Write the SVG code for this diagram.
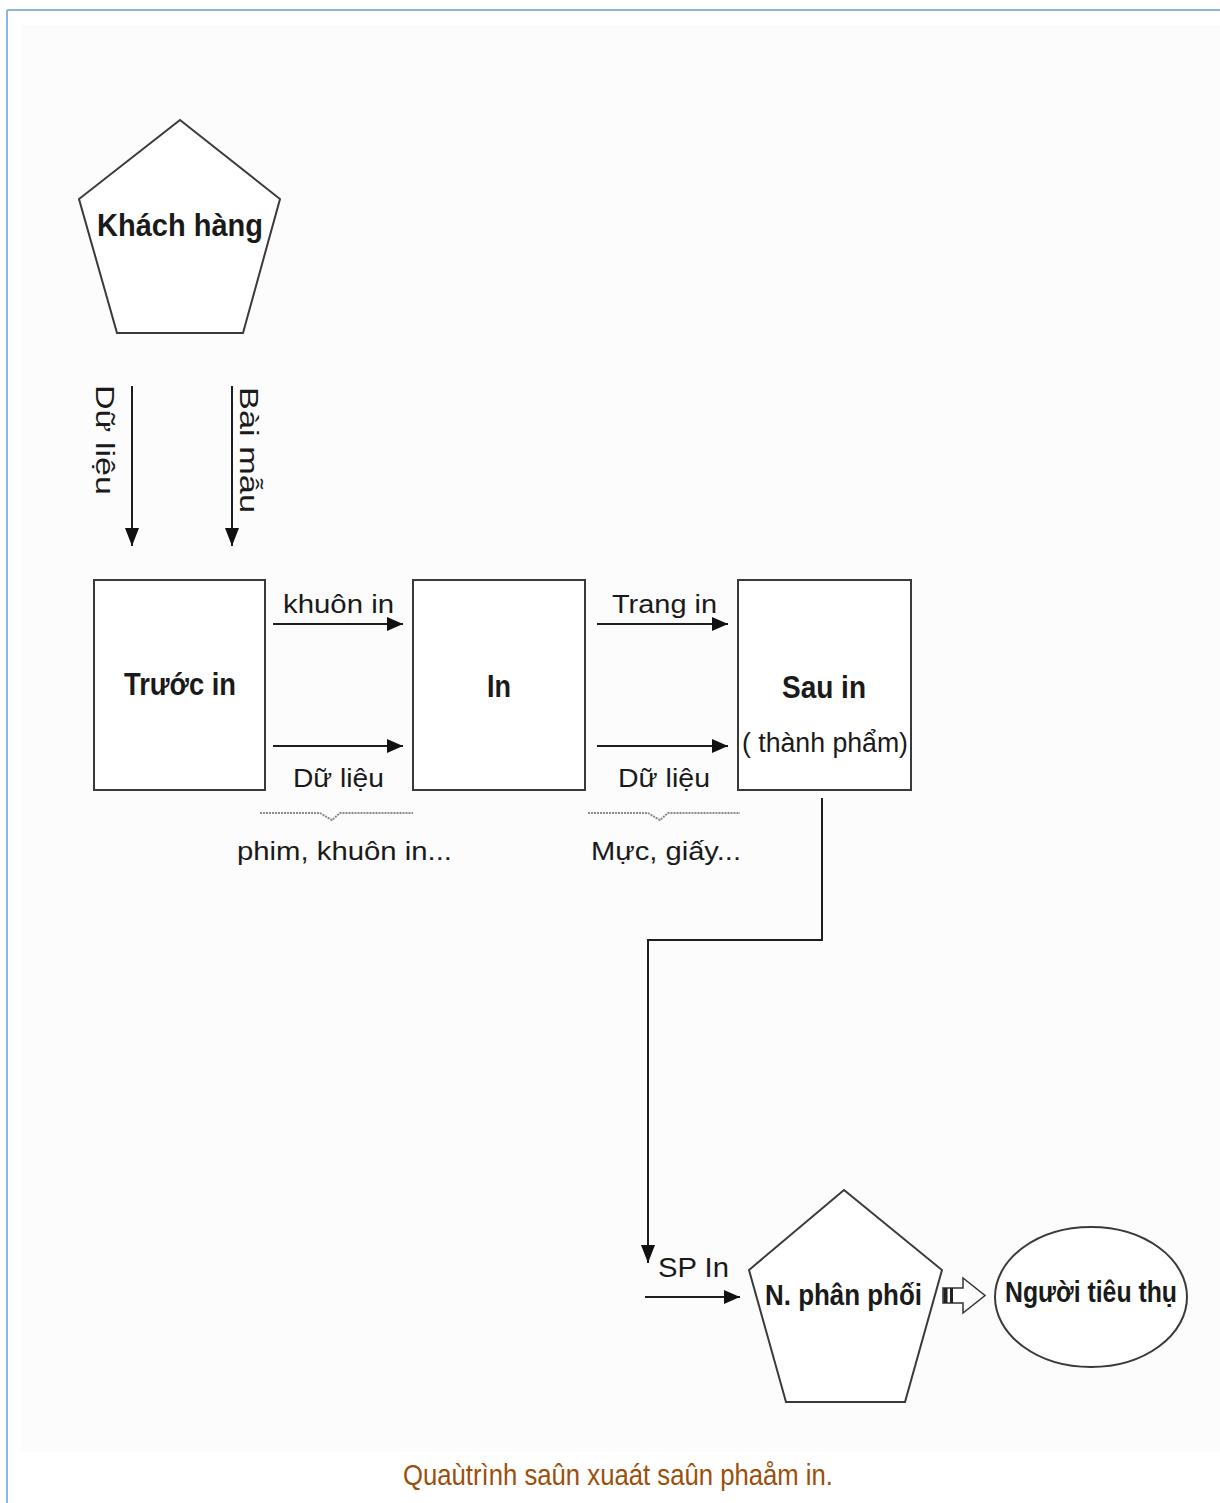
<svg xmlns="http://www.w3.org/2000/svg" width="1220" height="1503" viewBox="0 0 1220 1503">
  <style>
    .shape { fill: #ffffff; stroke: #3a3a3a; stroke-width: 2; }
    .line { fill: none; stroke: #1e1e1e; stroke-width: 2; }
    .lbl { font-family: "Liberation Sans", Arial, sans-serif; fill: #1a1a1a; }
    .bold { font-weight: bold; }
    .brace { fill: none; stroke: #8a8a8a; stroke-width: 2; stroke-dasharray: 2 1; }
  </style>
  <defs>
    <marker id="arr" markerUnits="userSpaceOnUse" markerWidth="16" markerHeight="14" refX="16" refY="7" orient="auto">
      <path d="M0,0 L16,7 L0,14 Z" fill="#111"/>
    </marker>
    <marker id="arrv" markerUnits="userSpaceOnUse" markerWidth="18" markerHeight="14" refX="18" refY="7" orient="auto">
      <path d="M0,0 L18,7 L0,14 Z" fill="#111"/>
    </marker>
  </defs>

  <rect x="0" y="0" width="1220" height="1503" fill="#ffffff"/>
  <rect x="20" y="25" width="1200" height="1427" fill="#fcfcfc"/>
  <line x1="7" y1="10" x2="1220" y2="10" stroke="#8db4e3" stroke-width="2"/>
  <line x1="7" y1="10" x2="7" y2="1503" stroke="#8db4e3" stroke-width="2"/>

  <g id="khach-hang">
    <polygon class="shape" points="180,120 280,199 243,333 117,333 79,199"/>
    <text class="lbl bold" x="97" y="236" font-size="32" textLength="166" lengthAdjust="spacingAndGlyphs">Khách hàng</text>
  </g>

  <g id="truoc-in">
    <rect class="shape" x="94" y="580" width="171" height="210"/>
    <text class="lbl bold" x="124" y="695" font-size="32" textLength="112" lengthAdjust="spacingAndGlyphs">Trước in</text>
  </g>

  <g id="in">
    <rect class="shape" x="413" y="580" width="172" height="210"/>
    <text class="lbl bold" x="487" y="697" font-size="32" textLength="24" lengthAdjust="spacingAndGlyphs">In</text>
  </g>

  <g id="sau-in">
    <rect class="shape" x="738" y="580" width="173" height="210"/>
    <text class="lbl bold" x="782" y="698" font-size="32" textLength="84" lengthAdjust="spacingAndGlyphs">Sau in</text>
    <text class="lbl" x="742" y="752" font-size="27" textLength="166" lengthAdjust="spacingAndGlyphs">( thành phẩm)</text>
  </g>

  <g id="n-phan-phoi">
    <polygon class="shape" points="844,1190 942,1270 905,1402 786,1402 749,1270"/>
    <text class="lbl bold" x="765" y="1305" font-size="29" textLength="157" lengthAdjust="spacingAndGlyphs">N. phân phối</text>
  </g>

  <g id="nguoi-tieu-thu">
    <ellipse class="shape" cx="1091" cy="1297" rx="96" ry="70"/>
    <text class="lbl bold" x="1005" y="1302" font-size="29" textLength="172" lengthAdjust="spacingAndGlyphs">Người tiêu thụ</text>
  </g>

  <g id="connectors">
    <line class="line" x1="132" y1="386" x2="132" y2="546" marker-end="url(#arrv)"/>
    <line class="line" x1="232" y1="386" x2="232" y2="546" marker-end="url(#arrv)"/>
    <line class="line" x1="273" y1="624" x2="403" y2="624" marker-end="url(#arr)"/>
    <line class="line" x1="273" y1="746" x2="403" y2="746" marker-end="url(#arr)"/>
    <line class="line" x1="597" y1="624" x2="728" y2="624" marker-end="url(#arr)"/>
    <line class="line" x1="597" y1="746" x2="728" y2="746" marker-end="url(#arr)"/>
    <path class="line" d="M822,798 V940 H648 V1263" marker-end="url(#arrv)"/>
    <line class="line" x1="645" y1="1297" x2="740" y2="1297" marker-end="url(#arr)"/>
    <path d="M943,1288 H963 V1278 L985,1295.5 L963,1313 V1303 H943 Z" fill="#ffffff" stroke="#333" stroke-width="1.5"/>
    <rect x="943.5" y="1288" width="4" height="15" fill="#222"/>
    <rect x="950" y="1288" width="3" height="15" fill="#222"/>
    <path class="brace" d="M260,813 H320 L332,820 L340,813 H413"/>
    <path class="brace" d="M588,813 H648 L660,820 L668,813 H740"/>
  </g>

  <g id="labels">
    <text class="lbl" transform="translate(96,385) rotate(90)" font-size="26" textLength="110" lengthAdjust="spacingAndGlyphs">Dữ liệu</text>
    <text class="lbl" transform="translate(240,387) rotate(90)" font-size="26" textLength="126" lengthAdjust="spacingAndGlyphs">Bài mẫu</text>
    <text class="lbl" x="283" y="613" font-size="26" textLength="111" lengthAdjust="spacingAndGlyphs">khuôn in</text>
    <text class="lbl" x="293" y="787" font-size="26" textLength="91" lengthAdjust="spacingAndGlyphs">Dữ liệu</text>
    <text class="lbl" x="612" y="613" font-size="26" textLength="105" lengthAdjust="spacingAndGlyphs">Trang in</text>
    <text class="lbl" x="618" y="787" font-size="26" textLength="92" lengthAdjust="spacingAndGlyphs">Dữ liệu</text>
    <text class="lbl" x="237" y="860" font-size="26" textLength="215" lengthAdjust="spacingAndGlyphs">phim, khuôn in...</text>
    <text class="lbl" x="591" y="860" font-size="26" textLength="150" lengthAdjust="spacingAndGlyphs">Mực, giấy...</text>
    <text class="lbl" x="658" y="1277" font-size="27" textLength="71" lengthAdjust="spacingAndGlyphs">SP In</text>
  </g>

  <text x="403" y="1485" font-family="'Liberation Sans', Arial, sans-serif" font-size="30" fill="#9c4f0c" textLength="430" lengthAdjust="spacingAndGlyphs">Quaùtrình saûn xuaát saûn phaåm in.</text>
</svg>
